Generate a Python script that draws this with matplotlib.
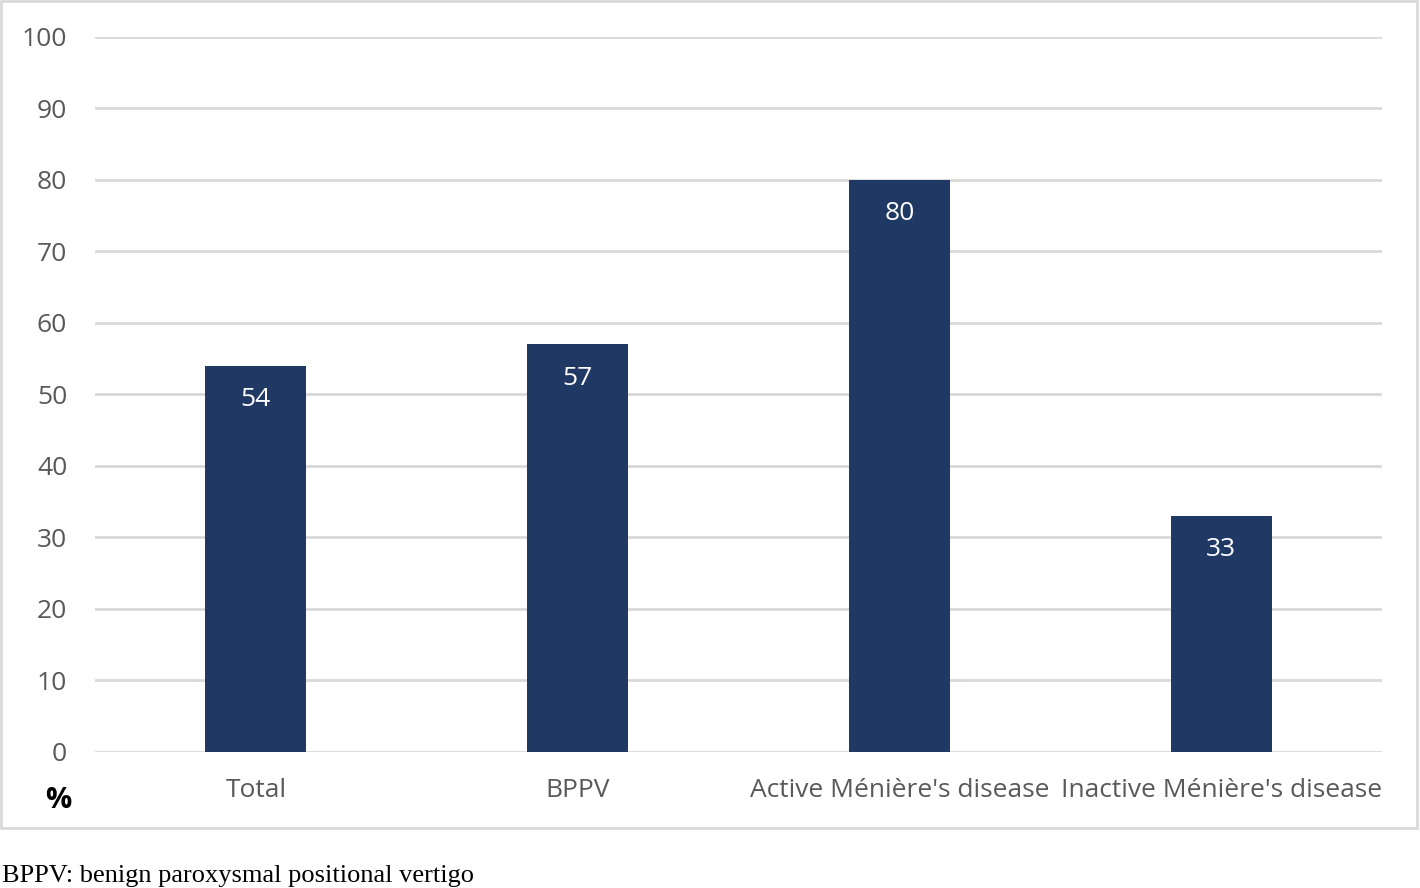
import matplotlib.pyplot as plt
from matplotlib.patches import Rectangle

# data
categories = ["Total", "BPPV", "Active Ménière's disease", "Inactive Ménière's disease"]
percent = [54, 57, 80, 33]
yticks = [0, 10, 20, 30, 40, 50, 60, 70, 80, 90, 100]

plt.rcParams['font.family'] = ['Open Sans', 'DejaVu Sans']

fig = plt.figure(figsize=(14.2, 8.88), dpi=100)
ax = fig.add_axes([0.0669, 0.1532, 0.9063, 0.8052])

# outer frame round the chart area
fig.patches.append(Rectangle((0.001, 0.0676), 0.997, 0.931, transform=fig.transFigure,
                             fill=False, edgecolor='#d9d9d9', linewidth=2))

x = range(len(categories))
bars = ax.bar(x, percent, width=0.314, color='#203864', zorder=3)
for b, v in zip(bars, percent):
    ax.text(b.get_x() + b.get_width() / 2, v - 4.7, str(v), ha='center', va='center',
            color='white', fontsize=19, zorder=4)

ax.set_xlim(-0.5, 3.5)
ax.set_ylim(0, 100)
ax.set_yticks(yticks)
ax.set_xticks(list(x))
ax.set_xticklabels(categories)
ax.tick_params(axis='both', length=0, labelsize=19, labelcolor='#595959')
ax.tick_params(axis='x', pad=19)
ax.tick_params(axis='y', pad=20)
ax.grid(axis='y', color='#d9d9d9', linewidth=2, zorder=0)
for s in ax.spines.values():
    s.set_visible(False)

fig.text(58 / 1420, 1 - 800 / 888, '%', ha='center', va='center', fontsize=21,
         fontweight='bold', color='black')
fig.text(2 / 1420, 1 - 876 / 888, 'BPPV: benign paroxysmal positional vertigo',
         ha='left', va='center', fontsize=19, family=['Liberation Serif', 'DejaVu Serif'])

fig.savefig('out.png', dpi=100)
